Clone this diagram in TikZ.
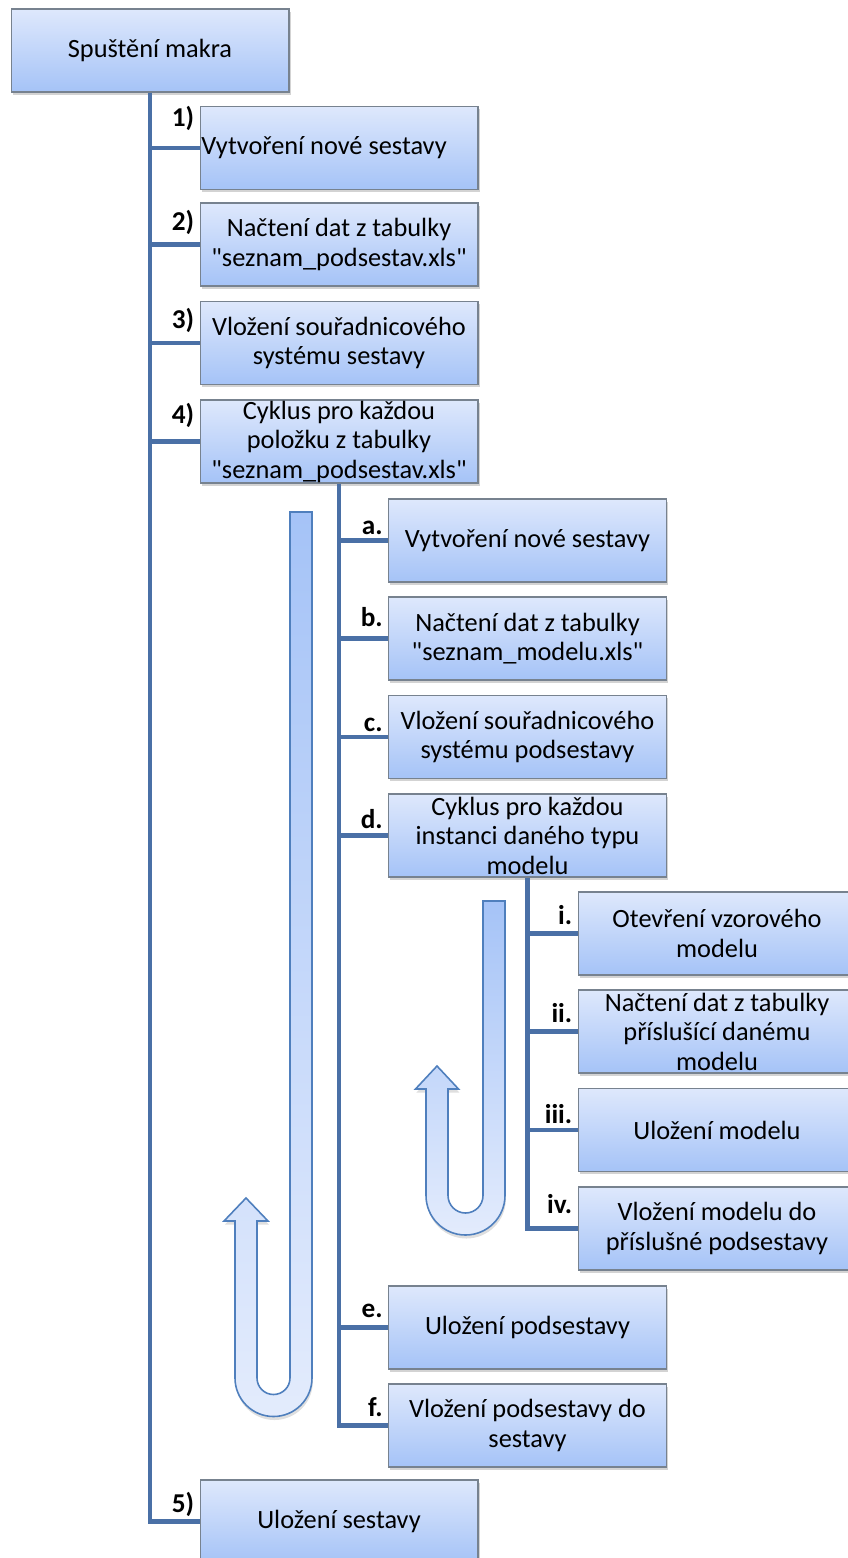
\documentclass[tikz,border=0pt]{standalone}
\usepackage{fontspec}
\setmainfont{Carlito}
\usetikzlibrary{shadows}
\definecolor{spoj}{HTML}{4A70A6}
\definecolor{okraj}{HTML}{77828F}
\definecolor{svetla}{HTML}{DEE8FC}
\definecolor{tmava}{HTML}{A5C3F7}
\definecolor{sipka}{HTML}{4F7FBD}
\tikzset{
	blok/.style={draw=okraj, line width=.6pt, top color=svetla, bottom color=tmava,
		minimum width=5.56cm, minimum height=1.66cm, inner sep=0pt, align=center,
		font=\fontsize{15}{16.8}\selectfont,
		drop shadow={shadow xshift=1pt, shadow yshift=-1.5pt, opacity=.35}},
	vetev/.style={draw=spoj, line width=2.4pt},
	cislo/.style={anchor=base east, inner sep=0pt, font=\bfseries\fontsize{15.5}{16.8}\selectfont},
	smycka/.style={draw=sipka, line width=.9pt, top color=tmava, bottom color=svetla!85!white,
		drop shadow={shadow xshift=.5pt, shadow yshift=-2pt, opacity=.25}}
}
\newcommand{\krok}[5][12]{
	\node[blok] (#2) at (#3) {#5};
	\node[cislo] (#2c) at ([shift={(-5,-#1)}]#2.west) {#4};
}
\newcommand{\uvoz}{\textquotedbl}

\begin{document}
\begin{tikzpicture}[x=.02cm, y=-.02cm]
		\useasboundingbox (0,0) rectangle (848,1558);
		\draw[smycka](290,512)--(312,512)--(312,1378)arc[start angle=0, end angle=180, radius=38.5]
			--(235,1221)--(224,1221)--(246,1198)--(268,1221)--(257,1221)--(257,1378)
			arc[start angle=180, end angle=0, radius=16.5]--cycle;
		\draw[smycka](483,901)--(505,901)--(505,1195.5)arc[start angle=0, end angle=180, radius=39.5]
			--(426,1089)--(415.5,1089)--(437,1066)--(458.5,1089)--(448,1089)--(448,1195.5)
			arc[start angle=180, end angle=0, radius=17.5]--cycle;
		\node[blok] (start) at (150,50.5) {Spuštění makra};
		\krok[21]{k1}{339,148}{1)}{Vytvoření nové sestavy\hspace*{17pt}};
		\krok[14]{k2}{339,244.5}{2)}{Načtení dat z tabulky\\\uvoz seznam\_podsestav.xls\uvoz};
		\krok[15]{k3}{339,343}{3)}{Vložení souřadnicového\\systému sestavy};
		\krok[18]{k4}{339,441.5}{4)}{Cyklus pro každou\\položku z tabulky\\\uvoz seznam\_podsestav.xls\uvoz};
		\krok[9]{k5}{339,1521.5}{5)}{Uložení sestavy};
		\krok[6]{ka}{527.5,540.5}{a.}{Vytvoření nové sestavy};
		\krok[12]{kb}{527.5,638.5}{b.}{Načtení dat z tabulky\\\uvoz seznam\_modelu.xls\uvoz};
		\krok[6]{kc}{527.5,737}{c.}{Vložení souřadnicového\\systému podsestavy};
		\krok[7]{kd}{527.5,835.5}{d.}{Cyklus pro každou\\instanci daného typu\\modelu};
		\krok[10]{ke}{527.5,1327.5}{e.}{Uložení podsestavy};
		\krok[9]{kf}{527.5,1425.5}{f.}{Vložení podsestavy do\\sestavy};
		\krok[9]{ki}{717,933.5}{i.}{Otevření vzorového\\modelu};
		\krok[9]{kii}{717,1031.5}{ii.}{Načtení dat z tabulky\\příslušící danému\\modelu};
		\krok[7]{kiii}{717,1130}{iii.}{Uložení modelu};
		\krok[15]{kiv}{717,1228.5}{iv.}{Vložení modelu do\\příslušné podsestavy};
		\draw[vetev](start.south)|-(k5.west);
		\foreach \k in {k1,k2,k3,k4}
			\draw[vetev](start.south|-\k.west)--(\k.west);
		\draw[vetev](k4.south)|-(kf.west);
		\foreach \k in {ka,kb,kc,kd,ke}
			\draw[vetev](k4.south|-\k.west)--(\k.west);
		\draw[vetev](kd.south)|-(kiv.west);
		\foreach \k in {ki,kii,kiii}
			\draw[vetev](kd.south|-\k.west)--(\k.west);
	\end{tikzpicture}
\end{document}
